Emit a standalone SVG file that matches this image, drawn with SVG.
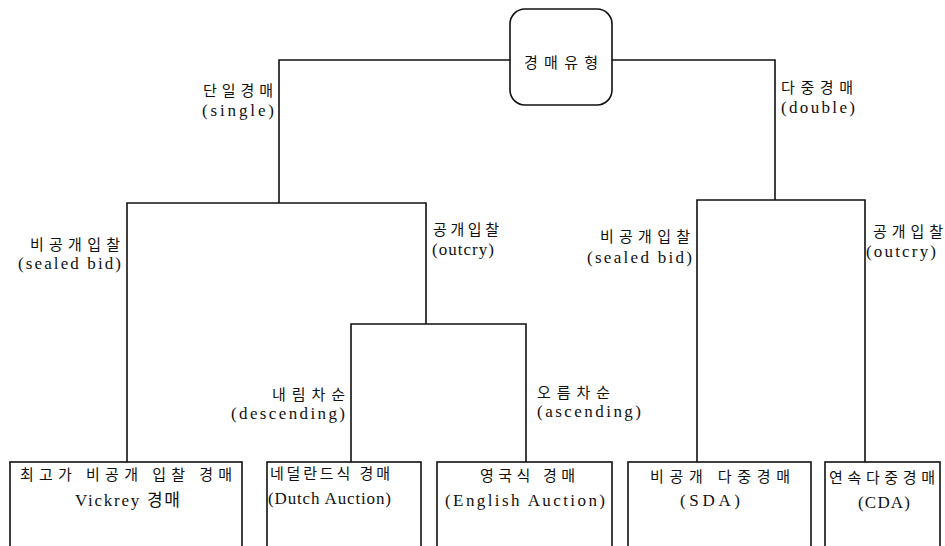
<svg xmlns="http://www.w3.org/2000/svg" width="945" height="546" viewBox="0 0 945 546">
<style>
.ln{fill:none;stroke:#111;stroke-width:1.6}
.bx{fill:#fff;stroke:#111;stroke-width:1.6}
text{font-family:"Liberation Serif","Noto Sans CJK KR",serif;font-size:15px;fill:#111}
.en{font-size:17px}
</style>
<rect width="945" height="546" fill="#fff"/>
<g id="connectors">
<path class="ln" d="M510,60 H279 V203"/>
<path class="ln" d="M612,60 H775 V200"/>
<path class="ln" d="M127,462 V203 H426 V324"/>
<path class="ln" d="M351,462 V324 H526 V462"/>
<path class="ln" d="M697,462 V200 H865 V462"/>
</g>
<g id="root">
<rect class="bx" x="510" y="9" width="102" height="96" rx="15"/>
<text x="524" y="68" textLength="74" lengthAdjust="spacing">경매유형</text>
</g>
<g id="lbl-single">
<text x="203" y="96" textLength="70" lengthAdjust="spacing">단일경매</text>
<text class="en" x="202" y="116" textLength="72" lengthAdjust="spacing">(single)</text>
</g>
<g id="lbl-double">
<text x="781" y="93" textLength="72" lengthAdjust="spacing">다중경매</text>
<text class="en" x="781" y="113" textLength="74" lengthAdjust="spacing">(double)</text>
</g>
<g id="lbl-sealed-left">
<text x="30" y="250" textLength="90" lengthAdjust="spacing">비공개입찰</text>
<text class="en" x="18" y="269" textLength="103" lengthAdjust="spacing">(sealed bid)</text>
</g>
<g id="lbl-outcry-left">
<text x="433" y="235" textLength="66" lengthAdjust="spacing">공개입찰</text>
<text class="en" x="432" y="255" textLength="62" lengthAdjust="spacing">(outcry)</text>
</g>
<g id="lbl-sealed-right">
<text x="600" y="242" textLength="90" lengthAdjust="spacing">비공개입찰</text>
<text class="en" x="587" y="263" textLength="105" lengthAdjust="spacing">(sealed bid)</text>
</g>
<g id="lbl-outcry-right">
<text x="873" y="237" textLength="70" lengthAdjust="spacing">공개입찰</text>
<text class="en" x="866" y="257" textLength="70" lengthAdjust="spacing">(outcry)</text>
</g>
<g id="lbl-descending">
<text x="272" y="400" textLength="73" lengthAdjust="spacing">내림차순</text>
<text class="en" x="231" y="419" textLength="114" lengthAdjust="spacing">(descending)</text>
</g>
<g id="lbl-ascending">
<text x="537" y="398" textLength="73" lengthAdjust="spacing">오름차순</text>
<text class="en" x="537" y="417" textLength="104" lengthAdjust="spacing">(ascending)</text>
</g>
<g id="vickrey">
<rect class="bx" x="10" y="462" width="232" height="90"/>
<text x="20" y="480" textLength="212" lengthAdjust="spacing">최고가 비공개 입찰 경매</text>
<text class="en" x="75" y="506" textLength="105" lengthAdjust="spacing">Vickrey 경매</text>
</g>
<g id="dutch">
<rect class="bx" x="267" y="462" width="154" height="90"/>
<text x="270" y="479" textLength="120" lengthAdjust="spacing">네덜란드식 경매</text>
<text class="en" x="268" y="504" textLength="123" lengthAdjust="spacing">(Dutch Auction)</text>
</g>
<g id="english">
<rect class="bx" x="437" y="462" width="175" height="90"/>
<text x="480" y="481" textLength="95" lengthAdjust="spacing">영국식 경매</text>
<text class="en" x="445" y="506" textLength="160" lengthAdjust="spacing">(English Auction)</text>
</g>
<g id="sda">
<rect class="bx" x="628" y="462" width="183" height="90"/>
<text x="650" y="482" textLength="140" lengthAdjust="spacing">비공개 다중경매</text>
<text class="en" x="680" y="506" textLength="60" lengthAdjust="spacing">(SDA)</text>
</g>
<g id="cda">
<rect class="bx" x="825" y="462" width="115" height="90"/>
<text x="829" y="483" textLength="106" lengthAdjust="spacing">연속다중경매</text>
<text class="en" x="858" y="508" textLength="52" lengthAdjust="spacing">(CDA)</text>
</g>
</svg>
